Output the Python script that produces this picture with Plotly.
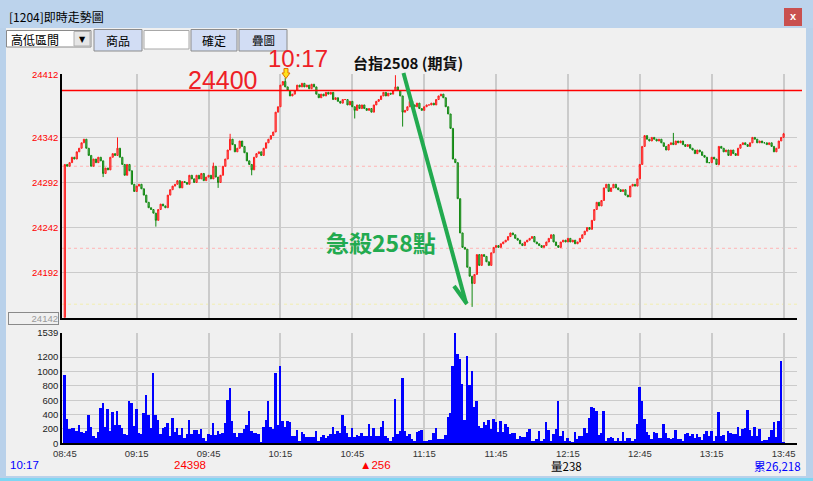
import plotly.graph_objects as go

W, H = 813, 481

# ---------------- data ----------------
TIME_TICKS = [0, 30, 60, 90, 120, 150, 180, 210, 240, 270, 300]
TIME_LABELS = ["08:45", "09:15", "09:45", "10:15", "10:45", "11:15",
               "11:45", "12:15", "12:45", "13:15", "13:45"]
PRICE_TICKS = [24412, 24342, 24292, 24242, 24192]
VOLUME_TICKS = [0, 200, 400, 600, 800, 1000, 1200, 1539]
PREV_CLOSE = 24142
CURSOR_LINE = 24394
BAND_HIGH = 24310
BAND_LOW = 24219
DAY_LOW_LINE = 24157

CLOSE = [
    24312, 24310, 24314, 24320, 24318, 24326, 24330, 24336, 24340, 24330,
    24322, 24310, 24318, 24314, 24320, 24316, 24302, 24308, 24306, 24320,
    24324, 24322, 24330, 24320, 24312, 24300, 24312, 24305, 24290, 24282,
    24288, 24290, 24285, 24278, 24270, 24264, 24262, 24258, 24250, 24262,
    24268, 24266, 24264, 24278, 24284, 24288, 24290, 24294, 24286, 24293,
    24292, 24290, 24300, 24296, 24292, 24300, 24296, 24302, 24294, 24298,
    24300, 24296, 24310, 24298, 24292, 24300, 24310, 24318, 24328, 24340,
    24334, 24326, 24330, 24338, 24332, 24325, 24316, 24312, 24306, 24320,
    24324, 24326, 24322, 24330, 24336, 24340, 24344, 24348, 24370, 24376,
    24400, 24404, 24398, 24394, 24388, 24390, 24394, 24400, 24398, 24402,
    24398, 24400, 24396, 24401, 24398, 24390, 24386, 24390, 24388, 24392,
    24390, 24392, 24384, 24386, 24382, 24380, 24384, 24384, 24378, 24382,
    24376, 24372, 24378, 24374, 24378, 24374, 24372, 24374, 24370, 24378,
    24382, 24384, 24388, 24392, 24388, 24391, 24390, 24394, 24398, 24394,
    24388, 24370, 24372, 24376, 24382, 24378, 24376, 24380, 24374, 24372,
    24376, 24378, 24378, 24380, 24378, 24384, 24388, 24390, 24386, 24376,
    24368, 24352, 24318, 24314, 24274, 24236, 24220, 24218, 24198, 24188,
    24180, 24190, 24212, 24200, 24212, 24210, 24204, 24200, 24214, 24220,
    24222, 24220, 24224, 24226, 24228, 24232, 24236, 24234, 24230, 24228,
    24224, 24222, 24226, 24228, 24230, 24232, 24226, 24224, 24222, 24220,
    24222, 24226, 24230, 24234, 24226, 24222, 24220, 24226, 24228, 24226,
    24230, 24226, 24228, 24224, 24226, 24230, 24234, 24238, 24242, 24240,
    24250, 24262, 24270, 24266, 24272, 24286, 24290, 24282, 24286, 24290,
    24286, 24284, 24282, 24284, 24278, 24276, 24288, 24290, 24288, 24296,
    24312, 24332, 24344, 24340, 24338, 24342, 24340, 24338, 24340, 24336,
    24332, 24328, 24334, 24336, 24334, 24338, 24336, 24338, 24334, 24332,
    24334, 24330, 24328, 24324, 24328, 24326, 24322, 24320, 24314, 24314,
    24320, 24318, 24312, 24332, 24330, 24326, 24328, 24322, 24328, 24324,
    24322, 24330, 24334, 24336, 24334, 24332, 24336, 24342, 24340, 24336,
    24338, 24336, 24336, 24334, 24336, 24332, 24326, 24330, 24338, 24342,
    24346,
]

HIGH_WICKS = {22: 24342, 62: 24314, 69: 24346, 92: 24408, 138: 24411,
              254: 24347, 300: 24347}
LOW_WICKS = {16: 24298, 38: 24243, 64: 24286, 78: 24300, 121: 24363,
             141: 24354, 170: 24154, 273: 24311}

VOLUME = [
    950, 340, 205, 212, 215, 170, 255, 157, 148, 170,
    393, 227, 107, 83, 162, 500, 560, 227, 487, 176,
    436, 255,
    450, 255, 222, 139, 120, 587, 560, 250, 478, 148,
    130, 420, 670, 393, 213, 985, 402, 330, 139, 222,
    236, 292, 102, 362, 167, 218, 125, 218, 83, 134,
    325, 130, 185, 185, 134, 200, 79, 37, 134, 125,
    283, 116, 172, 134, 144, 292, 603, 770, 310, 144,
    97, 144, 144, 204, 255, 450, 172, 153, 144, 130,
    14, 227, 325, 587, 232, 204, 980, 265, 1077, 320,
    238,
    315, 300, 102, 107, 185, 37, 162, 130, 88, 88,
    88, 88, 172, 37, 88, 116, 83, 111, 130, 236,
    130, 172, 148, 393, 241, 148, 93, 213, 93, 125,
    102, 153, 107, 102, 269, 107, 218, 107, 102, 227,
    315, 102, 83, 37, 88, 620, 130, 172, 906, 176,
    107, 134, 70, 42, 157, 181, 185, 42, 42, 46,
    56, 153,
    213, 65, 65, 60, 125, 370, 430, 1081, 1539, 1247,
    1178, 836, 333, 1220, 818, 1012, 513, 596, 249, 222,
    305, 263, 333, 203, 342, 296, 166, 319, 166, 273,
    231, 134, 143, 152, 69, 106, 92, 97, 162, 203,
    42, 42, 69, 180, 42, 69, 305, 194, 37, 139,
    208, 596, 111, 180, 37, 78, 42, 9, 162, 65,
    111, 111, 222, 152, 360, 513, 494, 457, 125, 152,
    457, 37, 78, 97, 78, 37, 78, 37, 166, 42,
    83, 83, 37, 69, 277, 790, 596, 347, 166, 125,
    65, 166, 152, 83, 83, 277, 152, 78, 69, 78,
    194, 69, 65, 42, 134, 148, 111, 134, 83, 139,
    88, 55, 134, 180, 111, 180, 37, 111, 443, 102,
    120, 37, 180, 152, 139, 139, 231, 106, 208, 222,
    471, 194, 111, 236, 111, 208, 37, 55, 55, 97,
    194, 305, 97, 319, 1150, 14,
]

MINUTES = list(range(len(CLOSE)))
OPEN = [PREV_CLOSE] + CLOSE[:-1]
HIGH = [HIGH_WICKS.get(i, max(o, c)) for i, (o, c) in enumerate(zip(OPEN, CLOSE))]
LOW = [LOW_WICKS.get(i, min(o, c)) for i, (o, c) in enumerate(zip(OPEN, CLOSE))]

# ---------------- geometry helpers (pixel -> paper) ----------------
def px(x):
    return x / W


def py(y):
    return 1 - y / H


PLOT_L, PLOT_R = 62, 797
PRICE_TOP, PRICE_BOT = 74.3, 317.7
VOL_TOP, VOL_BOT = 332.7, 443.3
X_RANGE = [-1.17, 305.6]

DIGIT_FONT = "Liberation Sans, Arial, sans-serif"
CJK_FONT = "Noto Sans CJK TC, sans-serif"

fig = go.Figure()

fig.add_trace(go.Candlestick(
    x=MINUTES, open=OPEN, high=HIGH, low=LOW, close=CLOSE,
    increasing=dict(line=dict(color="#ff1a1a", width=1), fillcolor="rgba(255,90,90,0.55)"),
    decreasing=dict(line=dict(color="#118811", width=1), fillcolor="rgba(60,160,60,0.55)"),
    whiskerwidth=0, xaxis="x", yaxis="y", showlegend=False, hoverinfo="skip",
))

fig.add_trace(go.Bar(
    x=MINUTES, y=VOLUME, width=0.8, marker=dict(color="#0000ff", line=dict(width=0)),
    xaxis="x2", yaxis="y2", showlegend=False, hoverinfo="skip",
))

shapes = []


def rect(x0, y0, x1, y1, fill, line=None, lw=1, layer="below"):
    shapes.append(dict(type="rect", xref="paper", yref="paper",
                       x0=px(x0), x1=px(x1), y0=py(y1), y1=py(y0),
                       fillcolor=fill, layer=layer,
                       line=dict(color=line or fill, width=lw if line else 0)))


# window chrome
rect(0, 0, W, H, "#b9d1ea")
rect(0, 0, W, 28, "#bcd3ec")
rect(6, 28, 806, 476, "#f0f0f0")
rect(0, 478, W, H, "#7fd6f3")
rect(784, 8, 802, 26, "#c9504f", layer="above")
# controls
rect(6.5, 30.5, 91, 47, "#ffffff", "#8a8a8a")
rect(74, 31.5, 90, 46, "#e6e6e6", "#b0b0b0")
for bx0, bx1 in [(94, 142), (191, 237), (239, 287)]:
    rect(bx0, 29.5, bx1, 51, "#d2ddf4", "#8c8c8c")
rect(144, 30.5, 189, 49, "#ffffff", "#a8a8a8")

# price panel reference lines
shapes.append(dict(type="line", xref="paper", yref="y", x0=px(PLOT_L), x1=px(802),
                   y0=CURSOR_LINE, y1=CURSOR_LINE, line=dict(color="#ff0000", width=1.5)))
for lvl in (BAND_HIGH, BAND_LOW):
    shapes.append(dict(type="line", xref="paper", yref="y", x0=px(PLOT_L), x1=px(PLOT_R),
                       y0=lvl, y1=lvl, layer="below",
                       line=dict(color="#ffb4b4", width=1, dash="dot")))
shapes.append(dict(type="line", xref="paper", yref="y", x0=px(PLOT_L), x1=px(PLOT_R),
                   y0=DAY_LOW_LINE, y1=DAY_LOW_LINE, layer="below",
                   line=dict(color="#f2eeb0", width=1, dash="dot")))

# green hand-drawn arrow
GREEN = "#22aa4f"
shapes.append(dict(type="line", xref="paper", yref="paper", x0=px(403.5), y0=py(73),
                   x1=px(466), y1=py(303), line=dict(color=GREEN, width=4)))
shapes.append(dict(type="line", xref="paper", yref="paper", x0=px(454), y0=py(286),
                   x1=px(467), y1=py(304), line=dict(color=GREEN, width=4)))

# yellow marker arrow at 10:17
pts = [(284, 68.5), (288, 68.5), (288, 73), (290, 73), (286, 78.5), (282, 73), (284, 73)]
path = "M " + " L ".join(f"{px(a):.5f},{py(b):.5f}" for a, b in pts) + " Z"
shapes.append(dict(type="path", xref="paper", yref="paper", path=path,
                   fillcolor="#ffe21a", line=dict(color="#e07000", width=1)))

annotations = []


def ann(text, x, y, size, color, xanchor="center", family=DIGIT_FONT, **kw):
    annotations.append(dict(text=text, x=px(x), y=py(y), xref="paper", yref="paper",
                            xanchor=xanchor, yanchor="middle", showarrow=False,
                            font=dict(size=size, color=color, family=family), **kw))


ann("[1204]即時走勢圖", 7, 17, 12, "#000000", "left", CJK_FONT)
ann("<b>x</b>", 793, 16.5, 11, "#ffffff")
ann("高低區間", 9, 39, 12, "#000000", "left", CJK_FONT)
ann("▼", 82, 39, 8, "#000000", family="DejaVu Sans")
ann("商品", 118, 40, 12, "#000000", family=CJK_FONT)
ann("確定", 214, 40, 12, "#000000", family=CJK_FONT)
ann("疊圖", 263, 39.5, 11.5, "#000000", family=CJK_FONT)

ann("24400", 222.5, 80, 25, "#ee2026")
ann("10:17", 298, 58.5, 24, "#ee2026")
ann("<b>台指2508 (期貨)</b>", 408, 62, 15, "#111111", family=CJK_FONT)
ann("<b>急殺258點</b>", 381, 242, 23, GREEN, family=CJK_FONT)

annotations.append(dict(text="24142", x=px(7.5), y=py(318), xref="paper", yref="paper",
                        xanchor="left", yanchor="middle", showarrow=False, width=49,
                        height=11, align="right", bordercolor="#8a8a8a", borderwidth=1,
                        borderpad=0, bgcolor="#f0f0f0",
                        font=dict(size=9.5, color="#9a9a9a", family=DIGIT_FONT)))

ann("10:17", 8, 465, 11.5, "#0000ff", "left")
ann("24398", 190, 465, 11.5, "#ff0000")
ann("▲256", 375, 465, 11.5, "#ff0000", family="Liberation Sans, DejaVu Sans")
ann("量238", 566, 466, 11.5, "#000000", family=CJK_FONT)
ann("累26,218", 803, 466, 11.5, "#0000ff", "right", family=CJK_FONT)

GRID = "#cbcbcb"
fig.update_layout(
    template="none",
    width=W, height=H, margin=dict(l=0, r=0, t=0, b=0, pad=0, autoexpand=False),
    paper_bgcolor="#f0f0f0", plot_bgcolor="#f0f0f0",
    shapes=shapes, annotations=annotations, bargap=0, showlegend=False,
    xaxis=dict(domain=[px(PLOT_L), px(PLOT_R)], range=X_RANGE, anchor="y",
               automargin=False,
               rangeslider=dict(visible=False), showticklabels=False,
               tickmode="array", tickvals=TIME_TICKS, ticks="", showgrid=False,
               minor=dict(tickmode="array", tickvals=TIME_TICKS[1:], showgrid=True,
                          gridcolor=GRID, gridwidth=1.5, ticks=""),
               showline=True, linecolor="#000000", linewidth=2, zeroline=False,
               fixedrange=True),
    yaxis=dict(domain=[py(PRICE_BOT), py(PRICE_TOP)], range=[PREV_CLOSE, 24412],
               anchor="x", automargin=False, tickmode="array", tickvals=PRICE_TICKS,
               ticktext=[str(v) for v in PRICE_TICKS], ticks="",
               tickfont=dict(size=9.5, color="#ff0000", family=DIGIT_FONT),
               showgrid=True, gridcolor=GRID, gridwidth=1, zeroline=False,
               showline=True, linecolor="#000000", linewidth=1.5, fixedrange=True),
    xaxis2=dict(domain=[px(PLOT_L), px(PLOT_R)], range=X_RANGE, anchor="y2",
                automargin=False,
                tickmode="array", tickvals=TIME_TICKS, ticktext=TIME_LABELS, ticks="",
                tickfont=dict(size=9.5, color="#333333", family=DIGIT_FONT),
                showgrid=False,
                minor=dict(tickmode="array", tickvals=TIME_TICKS[1:], showgrid=True,
                           gridcolor=GRID, gridwidth=1.5, ticks=""),
                showline=True, linecolor="#000000", linewidth=2, zeroline=False,
                fixedrange=True),
    yaxis2=dict(domain=[py(VOL_BOT), py(VOL_TOP)], range=[0, 1539], anchor="x2",
                automargin=False,
                tickmode="array", tickvals=VOLUME_TICKS, ticks="",
                tickfont=dict(size=9.5, color="#222222", family=DIGIT_FONT),
                showgrid=True, gridcolor=GRID, gridwidth=1, zeroline=False,
                showline=True, linecolor="#000000", linewidth=1.5, fixedrange=True),
)

fig.write_html(
    "out.html",
    config={"displayModeBar": False},
    post_script="document.body.style.margin='0';document.body.style.padding='0';",
)
